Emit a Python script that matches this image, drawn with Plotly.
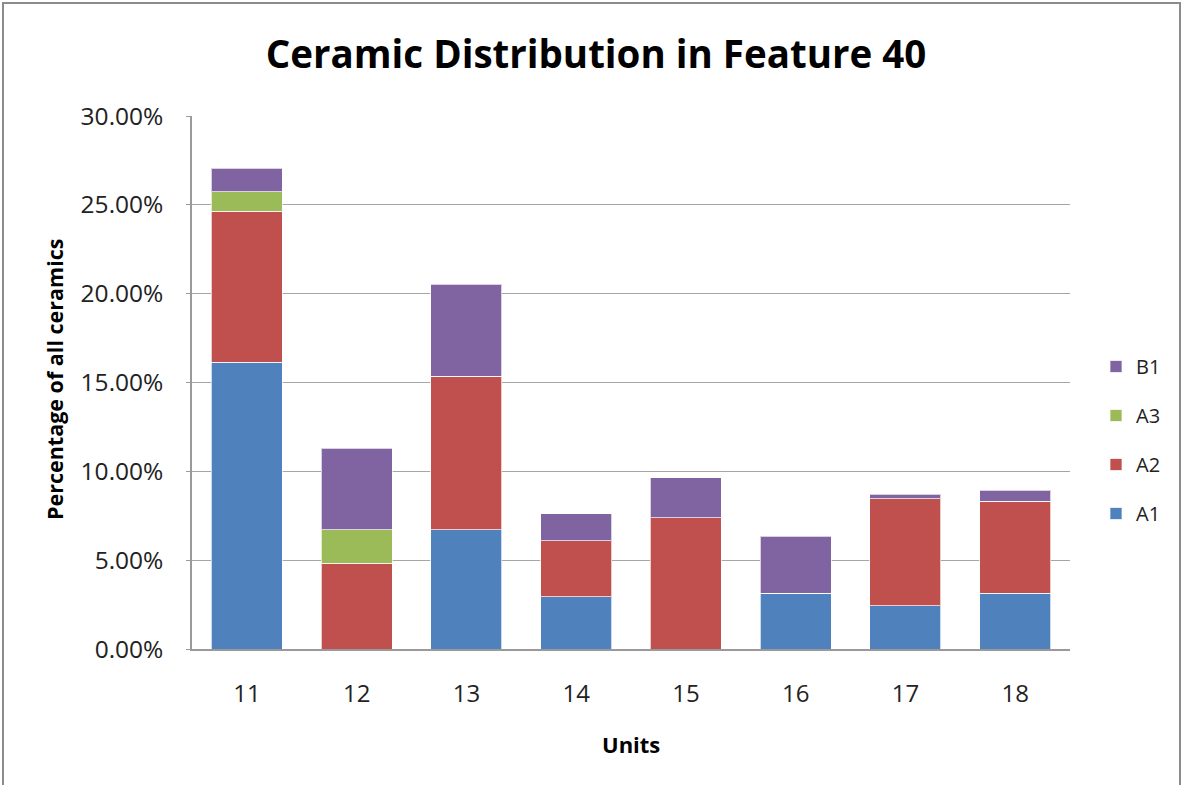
import plotly.graph_objects as go

units = ["11", "12", "13", "14", "15", "16", "17", "18"]
a1 = [16.15, 0.0, 6.70, 2.93, 0.0, 3.13, 2.43, 3.13]
a2 = [8.50, 4.82, 8.65, 3.17, 7.40, 0.0, 6.04, 5.20]
a3 = [1.09, 1.88, 0.0, 0.0, 0.0, 0.0, 0.0, 0.0]
b1 = [1.32, 4.60, 5.19, 1.52, 2.24, 3.21, 0.23, 0.61]
y_ticks = [0, 0.05, 0.10, 0.15, 0.20, 0.25, 0.30]

series = [("A1", a1, "#4F81BD", 4), ("A2", a2, "#C0504D", 3),
          ("A3", a3, "#9BBB59", 2), ("B1", b1, "#8064A2", 1)]

FONT = "'Open Sans', Carlito, Calibri, sans-serif"

fig = go.Figure()
for name, vals, col, rank in series:
    fig.add_trace(go.Bar(
        x=units, y=[v / 100 for v in vals], name=name, legendgroup=name,
        legendrank=rank,
        marker=dict(color=col, line=dict(color="rgba(255,255,255,0.7)", width=1)),
    ))

W, H = 1185, 785
L, R, T, B = 192, 1070, 116, 649
pw, ph = R - L, B - T


def px(x):
    return (x - L) / pw


def py(y):
    return (B - y) / ph


fig.update_layout(
    width=W, height=H,
    margin=dict(l=L, r=W - R, t=T, b=H - B),
    barmode="stack", bargap=0.355,
    plot_bgcolor="white", paper_bgcolor="white",
    font=dict(family=FONT, size=24, color="#222222"),
    title=dict(text="<b>Ceramic Distribution in Feature 40</b>",
               x=596 / W, xanchor="center", y=1 - 55 / H, yanchor="middle",
               font=dict(family=FONT, size=38.5, color="black")),
    xaxis=dict(showline=True, linecolor="#9a9a9a", linewidth=1.5,
               ticks="", ticklabelstandoff=22,
               tickfont=dict(size=24, color="#222222")),
    yaxis=dict(range=[0, 0.30], tickvals=y_ticks, tickformat=".2%",
               showgrid=True, gridcolor="#a6a6a6", gridwidth=1.3,
               showline=True, linecolor="#9a9a9a", linewidth=1.5,
               ticks="outside", ticklen=4, tickcolor="#9a9a9a",
               ticklabelstandoff=18, zeroline=False,
               tickfont=dict(size=24.5, color="#222222")),
    legend=dict(x=px(1096), xanchor="left", y=py(440), yanchor="middle",
                traceorder="grouped", tracegroupgap=20,
                font=dict(size=20, color="#222222"),
                bgcolor="rgba(0,0,0,0)"),
    showlegend=True,
    annotations=[
        dict(text="<b>Units</b>", x=0.5, y=py(744), xref="paper", yref="paper",
             showarrow=False, font=dict(size=22, color="black"),
             xanchor="center", yanchor="middle"),
        dict(text="<b>Percentage of all ceramics</b>", x=px(54), y=py(380),
             xref="paper", yref="paper", showarrow=False, textangle=-90,
             font=dict(size=21.5, color="black"),
             xanchor="center", yanchor="middle"),
    ],
    shapes=[
        dict(type="rect", xref="paper", yref="paper",
             x0=px(3), x1=px(1180), y0=py(800), y1=py(3),
             line=dict(color="#8c8c8c", width=2), fillcolor="rgba(0,0,0,0)",
             layer="below"),
    ],
)

fig.write_html(
    "out.html",
    config={"displayModeBar": False},
    post_script="document.body.style.margin='0';"
                "document.documentElement.style.overflow='hidden';",
)
